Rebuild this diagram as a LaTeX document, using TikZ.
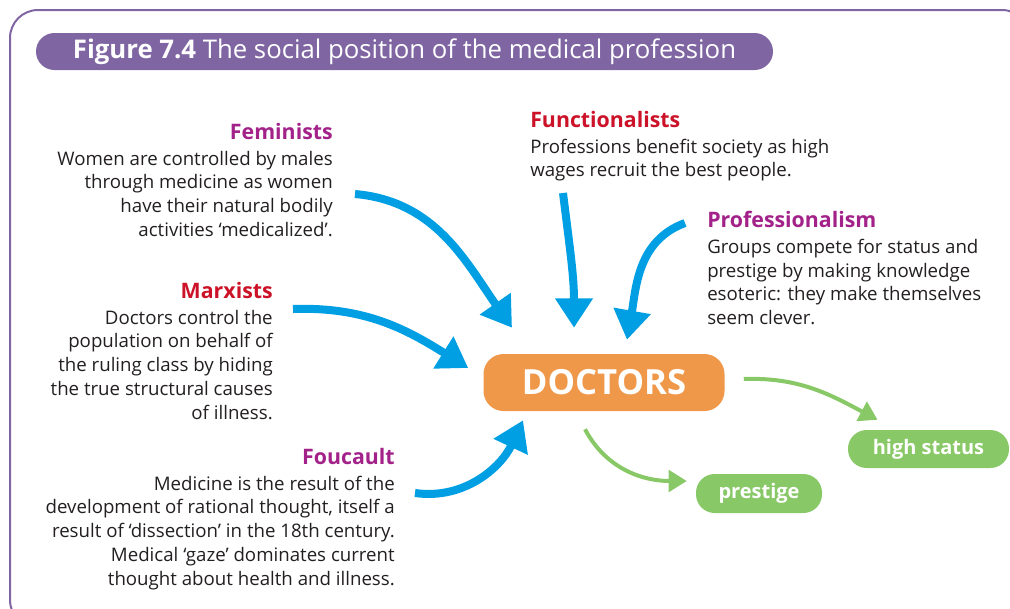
\documentclass[tikz,border=0pt]{standalone}
\usepackage{fontspec}
\setmainfont{Open Sans}
\usetikzlibrary{arrows.meta}
\definecolor{framepurple}{RGB}{127,102,163}
\definecolor{headmagenta}{RGB}{163,34,138}
\definecolor{headred}{RGB}{204,18,40}
\definecolor{arrowblue}{RGB}{0,159,227}
\definecolor{docorange}{RGB}{240,152,74}
\definecolor{statusgreen}{RGB}{136,200,102}
\definecolor{bodygray}{RGB}{35,31,32}

\tikzset{
  textblock/.style={inner sep=0pt, text=bodygray, font=\fontsize{14}{17.8}\selectfont},
  bluearrow/.style={-{Triangle[length=22pt,width=27pt]}, line width=6pt, arrowblue},
  greenarrow/.style={-{Triangle[length=13.5pt,width=16pt]}, line width=3pt, statusgreen},
  pill/.style={fill=statusgreen, text=white, rounded corners=14pt, inner sep=0pt,
    font=\fontsize{15}{18}\selectfont\bfseries}
}
\newcommand{\magentahead}[1]{{\fontsize{16}{19}\selectfont\bfseries\color{headmagenta}#1}}
\newcommand{\redhead}[1]{{\fontsize{16}{19}\selectfont\bfseries\color{headred}#1}}

\begin{document}
\begin{tikzpicture}[x=0.75pt, y=-0.75pt]
  \useasboundingbox (0,0) rectangle (1010,608);
  \clip (0,0) rectangle (1010,608);
  \draw [framepurple, line width=1.5pt, rounded corners=21pt] (10,10) rectangle (1030,628);

  \node [fill=framepurple, rounded corners=13.8pt, minimum width=552.75pt, minimum height=27.75pt,
    inner sep=0pt, text=white, font=\fontsize{19.3}{22}\selectfont] (title) at (404.5,51.5)
    {\textbf{Figure 7.4} The social position of the medical profession};

  \node [fill=docorange, rounded corners=15pt, minimum width=180.75pt, minimum height=42.75pt,
    inner sep=0pt, text=white, font=\fontsize{26}{30}\selectfont\bfseries] (doc) at (604,382.5) {DOCTORS};
  \node [pill, minimum width=120.75pt, minimum height=28.5pt] (status) at (928.5,449) {high status};
  \node [pill, minimum width=94.5pt, minimum height=29.25pt] (prestige) at (759,493.5) {prestige};

  % the five views
  \node [textblock, anchor=north east, align=right] (fem) at (333,123)
    {\magentahead{Feminists}\\[1.5pt]Women are controlled by males\\through medicine as women\\have their natural bodily\\activities ‘medicalized’.};
  \node [textblock, anchor=north east, align=right] (marx) at (273,282)
    {\redhead{Marxists}\\[1.5pt]Doctors control the\\population on behalf of\\the ruling class by hiding\\the true structural causes\\of illness.};
  \node [textblock, anchor=north east, align=right] (fouc) at (395,448)
    {\magentahead{Foucault}\\[1.5pt]Medicine is the result of the\\development of rational thought, itself a\\result of ‘dissection’ in the 18th century.\\Medical ‘gaze’ dominates current\\thought about health and illness.};
  \node [textblock, anchor=north west, align=left] (func) at (530,111)
    {\redhead{Functionalists}\\[1.5pt]Professions benefit society as high\\wages recruit the best people.};
  \node [textblock, anchor=north west, align=left] (prof) at (707,211)
    {\magentahead{Professionalism}\\[1.5pt]Groups compete for status and\\prestige by making knowledge\\esoteric: they make themselves\\seem clever.};

  \coordinate (femfrom) at (355,194);
  \coordinate (funcfrom) at (563,193);
  \coordinate (proffrom) at (685,223);
  \coordinate (marxfrom) at (293,309);
  \coordinate (foucfrom) at (415,493);

  \draw [bluearrow] (femfrom) to [out=-5,in=125] ([shift={(-92,-26)}]doc.north);
  \draw [bluearrow] (funcfrom) to [out=-83,in=90] ([shift={(-30,-26)}]doc.north);
  \draw [bluearrow] (proffrom) to [out=200,in=80] ([shift={(23,-14)}]doc.north);
  \draw [bluearrow] (marxfrom) to [out=2,in=148] ([shift={(-15,-14.5)}]doc.west);
  \draw [bluearrow] (foucfrom) to [out=-8,in=-115] ([shift={(-81,9)}]doc.south);

  \draw [greenarrow] ([shift={(19,-3.5)}]doc.east) to [out=2,in=152] ([shift={(-51,-10)}]status.north);
  \draw [greenarrow] ([shift={(-19,18)}]doc.south) to [out=-62,in=180] ([shift={(-9,-12.5)}]prestige.west);
\end{tikzpicture}
\end{document}
